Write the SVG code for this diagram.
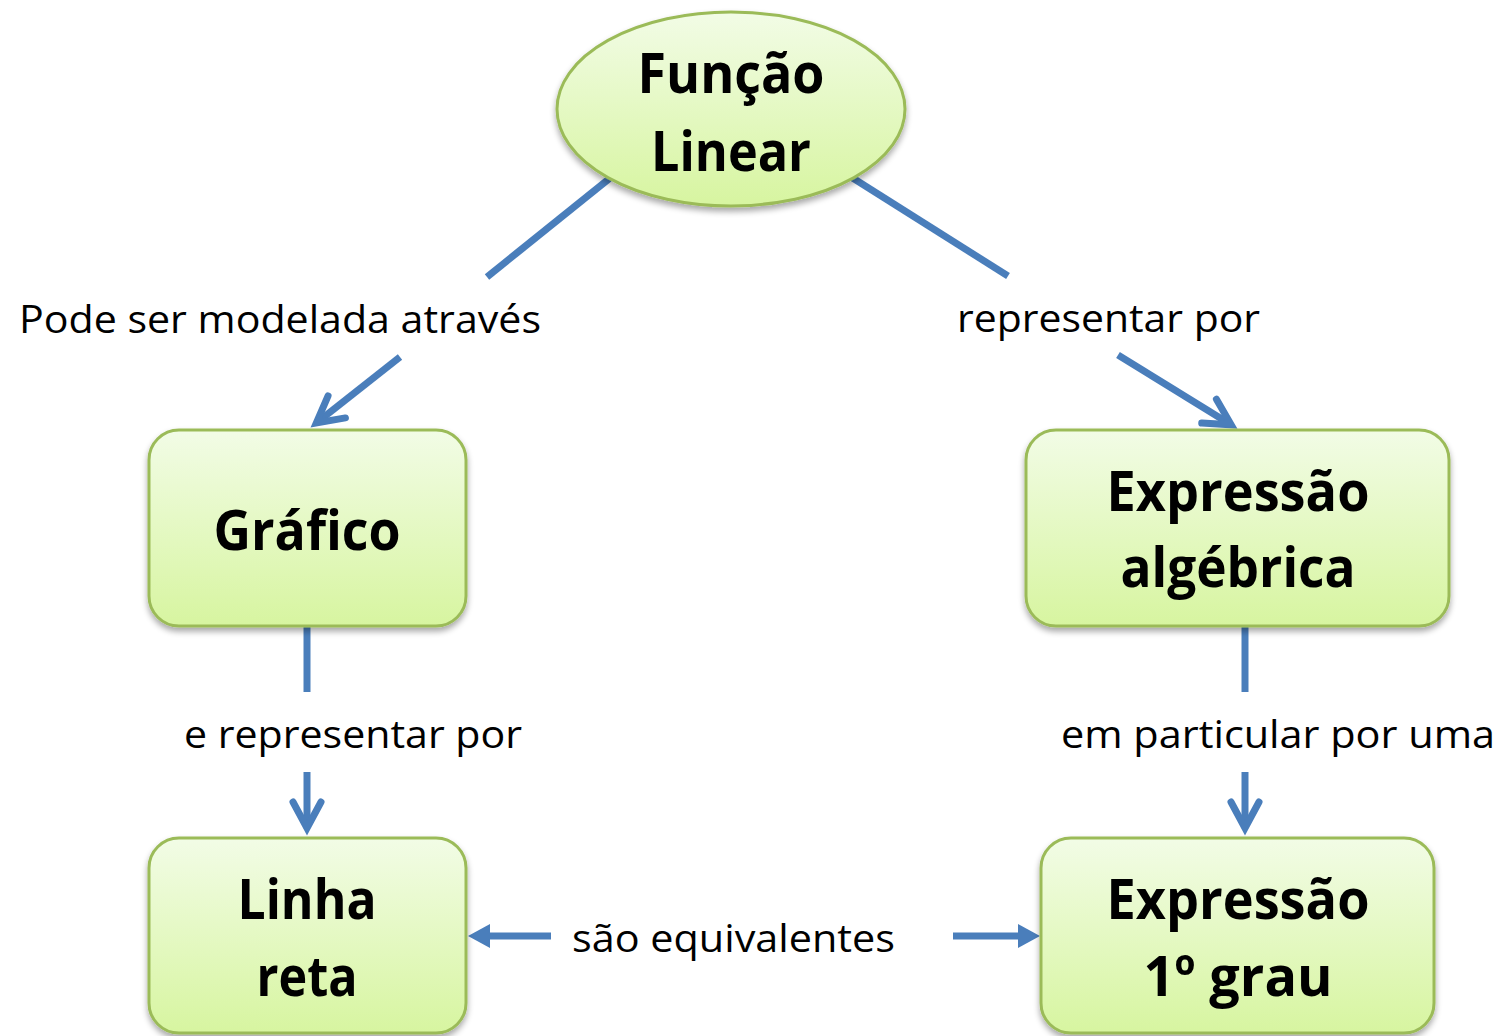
<svg xmlns="http://www.w3.org/2000/svg" width="1503" height="1036" viewBox="0 0 1503 1036">
<style>
.node{fill:url(#g);stroke:#9bbb59;stroke-width:3;filter:url(#sh)}
.t{font-family:"Open Sans","Liberation Sans",sans-serif;font-weight:bold;font-size:56px;fill:#000;text-anchor:middle}
.l{font-family:"Open Sans","Liberation Sans",sans-serif;font-size:39px;fill:#000}
.c{fill:none;stroke:#4a7ebb;stroke-width:7}
</style>
<defs>
<linearGradient id="g" x1="0" y1="0" x2="0" y2="1">
<stop offset="0" stop-color="#f2fce6"/>
<stop offset="1" stop-color="#d7f5a0"/>
</linearGradient>
<filter id="sh" x="-10%" y="-10%" width="120%" height="130%">
<feGaussianBlur in="SourceAlpha" stdDeviation="3"/>
<feOffset dy="4" result="b"/>
<feComponentTransfer><feFuncA type="linear" slope="0.35"/></feComponentTransfer>
<feMerge><feMergeNode/><feMergeNode in="SourceGraphic"/></feMerge>
</filter>
<marker id="chev" markerUnits="userSpaceOnUse" viewBox="-40 -25 60 50" markerWidth="60" markerHeight="50" refX="0" refY="0" orient="auto" overflow="visible">
<path d="M-24,-14 L2,0 L-24,14" fill="none" stroke="#4a7ebb" stroke-width="7" stroke-linecap="round" stroke-linejoin="miter"/>
</marker>
</defs>
<rect width="1503" height="1036" fill="#fff"/>
<g id="connectors">
<line class="c" x1="625" y1="166" x2="487" y2="277"/>
<line class="c" x1="400" y1="357" x2="317.9" y2="421.8" marker-end="url(#chev)"/>
<line class="c" x1="840" y1="170" x2="1008" y2="276"/>
<line class="c" x1="1118" y1="355" x2="1229.5" y2="423.8" marker-end="url(#chev)"/>
<line class="c" x1="307" y1="620" x2="307" y2="692"/>
<line class="c" x1="307" y1="772" x2="307" y2="826" marker-end="url(#chev)"/>
<line class="c" x1="1245" y1="620" x2="1245" y2="692"/>
<line class="c" x1="1245" y1="772" x2="1245" y2="826" marker-end="url(#chev)"/>
<line class="c" x1="551" y1="936" x2="488" y2="936"/>
<polygon points="468,936 490,924 490,948" fill="#4a7ebb"/>
<line class="c" x1="953" y1="936" x2="1020" y2="936"/>
<polygon points="1040,936 1018,924 1018,948" fill="#4a7ebb"/>
<text class="l" x="19" y="333" textLength="522" lengthAdjust="spacingAndGlyphs">Pode ser modelada através</text>
<text class="l" x="957" y="332" textLength="303" lengthAdjust="spacingAndGlyphs">representar por</text>
<text class="l" x="184" y="748" textLength="338" lengthAdjust="spacingAndGlyphs">e representar por</text>
<text class="l" x="1061" y="748" textLength="434" lengthAdjust="spacingAndGlyphs">em particular por uma</text>
<text class="l" x="572" y="952" textLength="323" lengthAdjust="spacingAndGlyphs">são equivalentes</text>
</g>
<g id="funcao-linear">
<ellipse class="node" cx="731" cy="109" rx="174" ry="97"/>
<text class="t" x="731" y="93" textLength="187" lengthAdjust="spacingAndGlyphs">Função</text>
<text class="t" x="731" y="171" textLength="160" lengthAdjust="spacingAndGlyphs">Linear</text>
</g>
<g id="grafico">
<rect class="node" x="149" y="430" width="317" height="196" rx="30"/>
<text class="t" x="307" y="550" textLength="187" lengthAdjust="spacingAndGlyphs">Gráfico</text>
</g>
<g id="expressao-algebrica">
<rect class="node" x="1026" y="430" width="423" height="196" rx="30"/>
<text class="t" x="1238" y="511" textLength="263" lengthAdjust="spacingAndGlyphs">Expressão</text>
<text class="t" x="1238" y="587" textLength="235" lengthAdjust="spacingAndGlyphs">algébrica</text>
</g>
<g id="linha-reta">
<rect class="node" x="149" y="838" width="317" height="195" rx="30"/>
<text class="t" x="307" y="919" textLength="139" lengthAdjust="spacingAndGlyphs">Linha</text>
<text class="t" x="307" y="996" textLength="101" lengthAdjust="spacingAndGlyphs">reta</text>
</g>
<g id="expressao-1-grau">
<rect class="node" x="1041" y="838" width="393" height="195" rx="30"/>
<text class="t" x="1238" y="919" textLength="263" lengthAdjust="spacingAndGlyphs">Expressão</text>
<text class="t" x="1238" y="996" textLength="189" lengthAdjust="spacingAndGlyphs">1º grau</text>
</g>
</svg>
